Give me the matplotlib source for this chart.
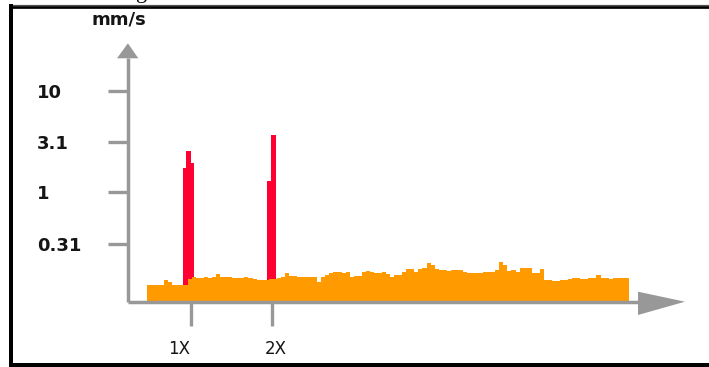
import numpy as np
import matplotlib
matplotlib.use("Agg")
import matplotlib.pyplot as plt
from matplotlib.patches import Polygon
from matplotlib.lines import Line2D
from matplotlib.ticker import NullLocator, FixedLocator, FixedFormatter
from matplotlib.transforms import ScaledTranslation

# ---- data -------------------------------------------------------------
# broadband spectrum (orders of running speed, velocity in mm/s)
band_start = 0.455
band_stop = 6.405
band_bins = 119
band_velocity = [
    0.122, 0.122, 0.122, 0.122, 0.136, 0.130, 0.122, 0.122, 0.122, 0.122,
    0.138, 0.146, 0.142, 0.144, 0.145, 0.142, 0.147, 0.155, 0.147, 0.145,
    0.145, 0.142, 0.142, 0.142, 0.145, 0.142, 0.138, 0.136, 0.136, 0.136,
    0.138, 0.138, 0.143, 0.145, 0.160, 0.149, 0.148, 0.145, 0.145, 0.145,
    0.145, 0.145, 0.131, 0.145, 0.153, 0.159, 0.162, 0.162, 0.159, 0.162,
    0.147, 0.149, 0.149, 0.164, 0.168, 0.165, 0.161, 0.161, 0.162, 0.156,
    0.146, 0.153, 0.153, 0.162, 0.175, 0.175, 0.164, 0.174, 0.180, 0.199,
    0.191, 0.175, 0.171, 0.171, 0.167, 0.171, 0.171, 0.171, 0.164, 0.161,
    0.161, 0.161, 0.161, 0.162, 0.162, 0.162, 0.171, 0.207, 0.191, 0.167,
    0.171, 0.164, 0.178, 0.178, 0.178, 0.159, 0.159, 0.174, 0.136, 0.136,
    0.134, 0.134, 0.136, 0.136, 0.139, 0.142, 0.142, 0.138, 0.138, 0.142,
    0.142, 0.153, 0.142, 0.142, 0.138, 0.142, 0.142, 0.142, 0.142,
]

# running-speed harmonics
peak1_edges = [0.898, 0.938, 1.000, 1.037]
peak1_velocity = [1.745, 2.57, 1.93]
peak2_edges = [1.935, 1.984, 2.046]
peak2_velocity = [1.30, 3.66]

y_ticks = [10, 3.1, 1, 0.31]
y_tick_labels = ["10", "3.1", "1", "0.31"]
x_ticks = [1, 2]
x_tick_labels = ["1X", "2X"]
y_unit = "mm/s"

# ---- style ------------------------------------------------------------
ORANGE = "#ff9a00"
RED = "#ff0033"
GRAY = "#989898"
INK = "#151515"

W, H, DPI = 709, 367, 100
fig = plt.figure(figsize=(W / DPI, H / DPI), dpi=DPI)
fig.patch.set_facecolor("white")

# axes box in pixels (left, right, top, bottom measured from top-left)
L, R, T, B = 127.5, 685.0, 43.3, 301.7
ax = fig.add_axes([L / W, (H - B) / H, (R - L) / W, (B - T) / H])
ax.set_facecolor("none")

ax.set_yscale("log")
y_lo, y_hi = 0.0832, 29.4
ax.set_ylim(y_lo, y_hi)
ax.set_xlim(0.21, 7.099)

edges = np.linspace(band_start, band_stop, band_bins + 1)
ax.stairs(peak1_velocity, peak1_edges, baseline=y_lo, fill=True, color=RED, zorder=2)
ax.stairs(peak2_velocity, peak2_edges, baseline=y_lo, fill=True, color=RED, zorder=2)
ax.stairs(band_velocity, edges, baseline=y_lo, fill=True, color=ORANGE, zorder=3)

for s in ax.spines.values():
    s.set_visible(False)

# axis lines with arrow heads (axes-fraction coordinates)
axw, axh = R - L, B - T
lw = 2.5
ax.add_line(Line2D([0, 0], [0, (B - 58.3) / axh], color=GRAY, lw=lw,
                   transform=ax.transAxes, clip_on=False, zorder=5,
                   solid_capstyle="butt"))
ax.add_line(Line2D([0, (638 - L) / axw], [0, 0], color=GRAY, lw=lw,
                   transform=ax.transAxes, clip_on=False, zorder=5,
                   solid_capstyle="butt"))
ax.add_patch(Polygon([[-10.5 / axw, (B - 58.3) / axh],
                      [10.8 / axw, (B - 58.3) / axh],
                      [0.4 / axw, 1.0]],
                     closed=True, color=GRAY, transform=ax.transAxes,
                     clip_on=False, zorder=5, lw=0))
ax.add_patch(Polygon([[(638 - L) / axw, 10.0 / axh],
                      [(638 - L) / axw, -13.3 / axh],
                      [1.0, 0.0]],
                     closed=True, color=GRAY, transform=ax.transAxes,
                     clip_on=False, zorder=5, lw=0))

# ticks
ax.yaxis.set_major_locator(FixedLocator(y_ticks))
ax.yaxis.set_major_formatter(FixedFormatter(y_tick_labels))
ax.yaxis.set_minor_locator(NullLocator())
ax.xaxis.set_major_locator(FixedLocator(x_ticks))
ax.xaxis.set_major_formatter(FixedFormatter(x_tick_labels))
ax.xaxis.set_minor_locator(NullLocator())

ax.tick_params(axis="y", direction="out", length=14.4, width=2.4,
               color=GRAY, pad=50.8, labelsize=13, labelcolor=INK)
ax.tick_params(axis="x", direction="out", length=17.3, width=2.4,
               color=GRAY, pad=10.5, labelsize=12, labelcolor=INK)
for tl in ax.get_yticklabels():
    tl.set_horizontalalignment("left")
    tl.set_fontweight("bold")
    tl.set_fontfamily("DejaVu Sans")

x_shift = [-12.5, 3.0]
for tl, dx in zip(ax.get_xticklabels(), x_shift):
    tl.set_fontfamily("DejaVu Sans")
    tl.set_transform(tl.get_transform() +
                     ScaledTranslation(dx / DPI, 0, fig.dpi_scale_trans))

# unit label
fig.text(119 / W, (H - 25) / H, y_unit, ha="center", va="baseline",
         fontsize=13, fontweight="bold", color=INK, family="DejaVu Sans")

# caption descender peeking over the frame
fig.text(141.5 / W, (H + 2.1) / H, "g", ha="center", va="baseline",
         fontsize=16, color="black", family="Liberation Serif")

# frame
def hline(y_px, x0, x1, width_px, color):
    fig.add_artist(Line2D([x0 / W, x1 / W], [(H - y_px) / H] * 2,
                          transform=fig.transFigure, color=color,
                          lw=width_px * 72 / DPI, solid_capstyle="butt"))

def vline(x_px, y0, y1, width_px, color):
    fig.add_artist(Line2D([x_px / W] * 2, [(H - y0) / H, (H - y1) / H],
                          transform=fig.transFigure, color=color,
                          lw=width_px * 72 / DPI, solid_capstyle="butt"))

hline(4.5, 9, W, 1.2, "#505050")
hline(7.3, 9, W, 2.7, "black")
hline(365.0, 9, W, 4.0, "black")
vline(11.2, 4.0, H, 4.0, "black")

fig.savefig("out.png", dpi=DPI)
